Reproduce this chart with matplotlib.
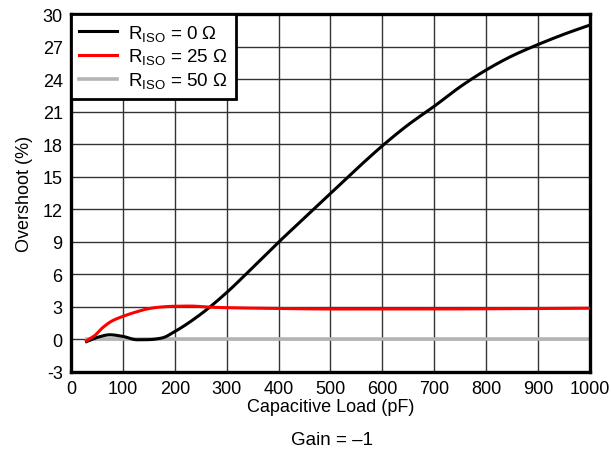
import numpy as np
import matplotlib
matplotlib.use("Agg")
import matplotlib.pyplot as plt

plt.rcParams["font.family"] = ["Liberation Sans", "DejaVu Sans"]
plt.rcParams["mathtext.fontset"] = "custom"
plt.rcParams["mathtext.rm"] = "Liberation Sans"
plt.rcParams["mathtext.default"] = "regular"
plt.rcParams["axes.unicode_minus"] = False

# 读图得到的数据点 (电容负载 pF -> 过冲 %)
load_r0 = [30, 50, 75, 100, 127, 150, 175, 200, 250, 300, 350, 400, 450,
           500, 550, 600, 650, 700, 750, 800, 850, 900, 950, 1000]
over_r0 = [-0.23, 0.15, 0.4, 0.25, -0.06, -0.05, 0.1, 0.7, 2.3, 4.3, 6.6,
           8.95, 11.2, 13.45, 15.7, 17.85, 19.8, 21.5, 23.3, 24.85, 26.15,
           27.2, 28.15, 29.0]

load_r25 = [30, 45, 62, 80, 100, 125, 146, 170, 197, 230, 268, 300, 400,
            500, 600, 700, 800, 900, 1000]
over_r25 = [-0.15, 0.3, 1.1, 1.7, 2.1, 2.5, 2.78, 2.95, 3.03, 3.05, 2.95,
            2.9, 2.83, 2.78, 2.78, 2.78, 2.8, 2.82, 2.85]

load_r50 = [30, 1000]
over_r50 = [0, 0]

labels = [r"R$_{ISO}$ = 0 Ω", r"R$_{ISO}$ = 25 Ω", r"R$_{ISO}$ = 50 Ω"]
x_ticks = list(range(0, 1001, 100))
y_ticks = list(range(-3, 31, 3))


def smooth(xs, ys, n=400):
    """PCHIP 插值, 只用于画出平滑曲线"""
    x = np.asarray(xs, float)
    y = np.asarray(ys, float)
    h = np.diff(x)
    d = np.diff(y) / h
    m = np.zeros_like(y)
    m[0], m[-1] = d[0], d[-1]
    for k in range(1, len(x) - 1):
        if d[k - 1] * d[k] > 0:
            w1 = 2 * h[k] + h[k - 1]
            w2 = h[k] + 2 * h[k - 1]
            m[k] = (w1 + w2) / (w1 / d[k - 1] + w2 / d[k])
    xf = np.linspace(x[0], x[-1], n)
    idx = np.clip(np.searchsorted(x, xf) - 1, 0, len(x) - 2)
    t = (xf - x[idx]) / h[idx]
    h00 = 2 * t**3 - 3 * t**2 + 1
    h10 = t**3 - 2 * t**2 + t
    h01 = -2 * t**3 + 3 * t**2
    h11 = t**3 - t**2
    yf = (h00 * y[idx] + h10 * h[idx] * m[idx]
          + h01 * y[idx + 1] + h11 * h[idx] * m[idx + 1])
    return xf, yf


fig = plt.figure(figsize=(6.11, 4.60), dpi=100)
ax = fig.add_axes([0.1162, 0.19, 0.8494, 0.777])

ax.plot(*smooth(load_r0, over_r0), color="black", lw=2.2,
        label=labels[0], zorder=3)
ax.plot(*smooth(load_r25, over_r25), color="#ff0000", lw=2.2,
        label=labels[1], zorder=4)
ax.plot(load_r50, over_r50, color="#b4b4b4", lw=2.6,
        label=labels[2], zorder=2)

ax.set_xlim(0, 1000)
ax.set_ylim(-3, 30)
ax.set_xticks(x_ticks)
ax.set_yticks(y_ticks)
ax.tick_params(length=0, labelsize=13, pad=6)
ax.grid(True, color="#333333", lw=1.0)
ax.set_axisbelow(True)
for sp in ax.spines.values():
    sp.set_linewidth(2.4)

ax.set_xlabel("Capacitive Load (pF)", fontsize=13, labelpad=1)
ax.set_ylabel("Overshoot (%)", fontsize=13, labelpad=7)

leg = ax.legend(loc="upper left", bbox_to_anchor=(0, 1), borderaxespad=0,
                fontsize=13.5, fancybox=False, framealpha=1,
                handlelength=2.0, handletextpad=0.6, labelspacing=0.2,
                borderpad=0.45)
leg.get_frame().set_edgecolor("black")
leg.get_frame().set_linewidth(2.0)

fig.text(0.543, 0.043, "Gain = –1", ha="center", va="center", fontsize=13.5)

fig.savefig("out.png", dpi=100)
